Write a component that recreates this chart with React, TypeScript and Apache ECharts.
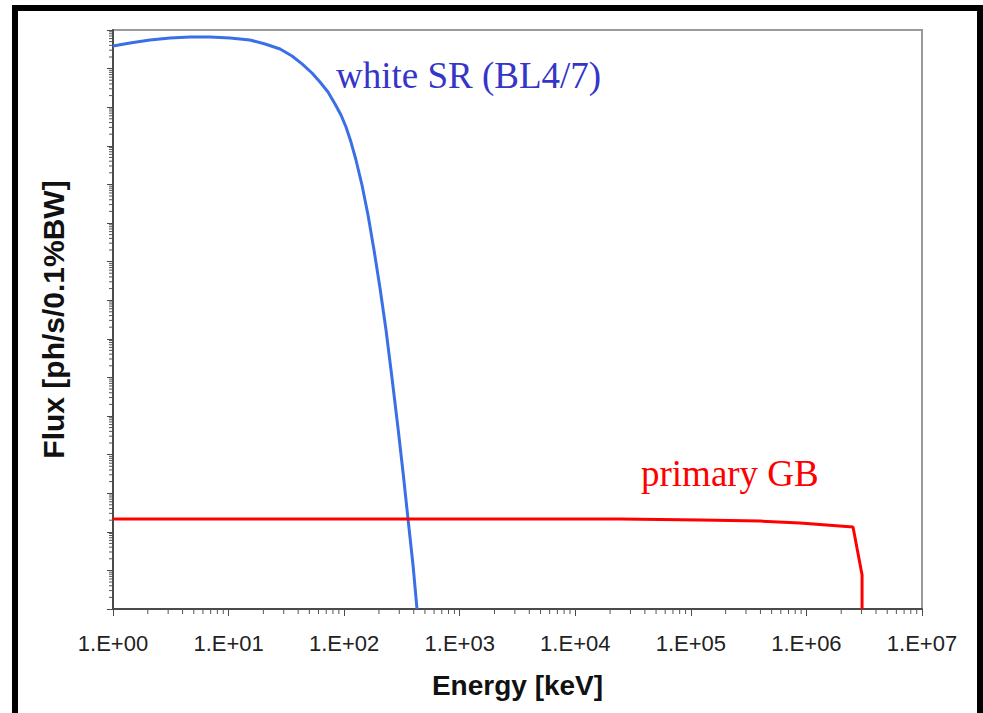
import React, { useEffect, useRef } from 'react';
import * as echarts from 'echarts';

// X tick labels (decades of energy, keV)
const xTickLabels = ['1.E+00', '1.E+01', '1.E+02', '1.E+03', '1.E+04', '1.E+05', '1.E+06', '1.E+07'];

// white SR (BL4/7) spectrum
const whiteSrEnergy = [1, 1.403, 2.09, 3.11, 4.64, 6.91, 10.29, 15.3, 20.7, 27.9, 35.4, 43.2, 52.7, 61.8, 72.5, 83.4, 93.9, 103.8, 114.6, 126.6, 142.7, 160.9, 181.3, 204.3, 230.3, 259.5, 292.4, 323.1, 357, 394.4, 427];
const whiteSrFlux = [3.85e14, 4.6e14, 5.51e14, 6.21e14, 6.59e14, 6.59e14, 6.21e14, 5.51e14, 4.34e14, 3.22e14, 2.12e14, 1.32e14, 7.69e13, 4.5e13, 2.48e13, 1.21e13, 6.28e12, 3.07e12, 1.25e12, 4.29e11, 9.64e10, 1.61e10, 2.0e9, 2.07e8, 1.69e7, 9.64e5, 4.89e4, 3.54e3, 215, 13.8, 1];

// primary GB spectrum
const gbEnergy = [1, 304, 24400, 1.2e5, 3.97e5, 8.8e5, 2.53e6, 3.03e6, 3.03e6];
const gbFlux = [215, 215, 215, 202, 190, 169, 133, 7.6, 1];

// axis ranges (log decades)
const xMin = 1;
const xMax = 1e7;
const yMin = 1;
const yMax = 1e15;
const minorMultipliers = [2, 3, 4, 5, 6, 7, 8, 9];

export default function App() {
  const ref = useRef<HTMLDivElement>(null);

  useEffect(() => {
    if (!ref.current) return;
    const chart = echarts.init(ref.current, null, { renderer: 'svg' });

    const minorTicks: number[][] = [];
    const xDec = Math.round(Math.log10(xMax / xMin));
    const yDec = Math.round(Math.log10(yMax / yMin));
    for (let k = 0; k < xDec; k++) {
      for (const m of minorMultipliers) minorTicks.push([xMin * m * Math.pow(10, k), yMin, 0]);
    }
    for (let k = 0; k < yDec; k++) {
      for (const m of minorMultipliers) minorTicks.push([xMin, yMin * m * Math.pow(10, k), 1]);
    }

    const option: any = {
      animation: false,
      backgroundColor: '#ffffff',
      grid: {
        left: 113,
        top: 30,
        right: 61,
        bottom: 104,
        show: true,
        borderColor: '#9a9a9a',
        borderWidth: 2,
        backgroundColor: 'transparent',
      },
      xAxis: {
        type: 'log',
        logBase: 10,
        min: xMin,
        max: xMax,
        interval: 1,
        name: 'Energy [keV]',
        nameLocation: 'middle',
        nameGap: 62,
        nameTextStyle: {
          fontFamily: 'Liberation Sans, Arial, sans-serif',
          fontWeight: 'bold',
          fontSize: 28,
          color: '#111',
        },
        axisLine: { show: true, onZero: false, lineStyle: { color: '#4a4a4a', width: 2 } },
        axisTick: { show: true, inside: false, length: 7, lineStyle: { color: '#4a4a4a', width: 1 } },
        axisLabel: {
          show: true,
          margin: 23,
          fontFamily: 'Liberation Sans, Arial, sans-serif',
          fontSize: 22,
          color: '#222',
          formatter: (v: number) => xTickLabels[Math.round(Math.log10(v / xMin))] ?? '',
        },
        splitLine: { show: false },
      },
      yAxis: {
        type: 'log',
        logBase: 10,
        min: yMin,
        max: yMax,
        interval: 1,
        name: 'Flux [ph/s/0.1%BW]',
        nameLocation: 'middle',
        nameGap: 45,
        nameRotate: 90,
        nameTextStyle: {
          fontFamily: 'Liberation Sans, Arial, sans-serif',
          fontWeight: 'bold',
          fontSize: 30,
          color: '#111',
        },
        axisLine: { show: true, onZero: false, lineStyle: { color: '#4a4a4a', width: 2 } },
        axisTick: { show: true, inside: false, length: 6, lineStyle: { color: '#4a4a4a', width: 1 } },
        axisLabel: { show: false },
        splitLine: { show: false },
      },
      series: [
        {
          type: 'custom',
          name: 'minorTicks',
          silent: true,
          clip: false,
          z: 1,
          data: minorTicks,
          renderItem: (_params: any, api: any) => {
            const p = api.coord([api.value(0), api.value(1)]);
            const isX = api.value(2) === 0;
            return {
              type: 'line',
              shape: isX
                ? { x1: p[0], y1: p[1], x2: p[0], y2: p[1] + 5 }
                : { x1: p[0] - 4, y1: p[1], x2: p[0], y2: p[1] },
              style: { stroke: '#555', lineWidth: 1 },
            };
          },
        },
        {
          type: 'line',
          name: 'white SR (BL4/7)',
          data: whiteSrEnergy.map((e, i) => [e, whiteSrFlux[i]]),
          showSymbol: false,
          smooth: false,
          clip: true,
          lineStyle: { color: '#3b6fe6', width: 3, join: 'round' },
          z: 3,
        },
        {
          type: 'line',
          name: 'primary GB',
          data: gbEnergy.map((e, i) => [e, gbFlux[i]]),
          showSymbol: false,
          clip: true,
          lineStyle: { color: '#ff0000', width: 3 },
          z: 3,
        },
      ],
      graphic: [
        {
          type: 'rect',
          shape: { x: 15, y: 8, width: 965, height: 720 },
          style: { fill: 'none', stroke: '#000', lineWidth: 6 },
          silent: true,
          z: 10,
        },
        {
          type: 'text',
          x: 336,
          y: 75,
          style: {
            text: 'white SR (BL4/7)',
            fill: '#3535c8',
            font: '37px "Liberation Serif", "Times New Roman", serif',
            verticalAlign: 'middle',
            align: 'left',
          },
          z: 10,
        },
        {
          type: 'text',
          x: 641,
          y: 473,
          style: {
            text: 'primary GB',
            fill: '#ff0000',
            font: '37px "Liberation Serif", "Times New Roman", serif',
            verticalAlign: 'middle',
            align: 'left',
          },
          z: 10,
        },
      ],
    };

    chart.setOption(option);
    return () => {
      chart.dispose();
    };
  }, []);

  return (
    <div
      ref={ref}
      style={{ position: 'absolute', left: 0, top: 0, width: 983, height: 713, background: '#fff' }}
    />
  );
}
